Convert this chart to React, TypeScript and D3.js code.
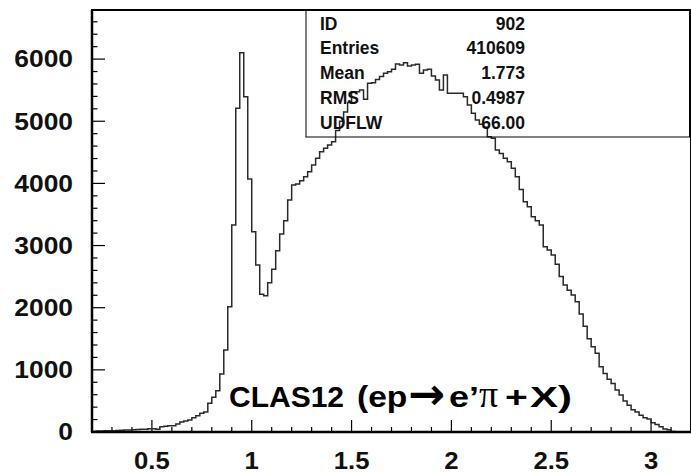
import React from 'react';
import * as d3 from 'd3';

// histogram of 150 bins, 0.02 wide, starting at 0.2
const binStart = 0.2;
const binWidth = 0.02;
const counts = [
  10, 15, 15, 20, 20, 22, 25, 30, 32, 32,
  35, 40, 43, 45, 52, 54, 43, 85, 91, 100,
  102, 129, 160, 177, 193, 230, 260, 300, 320, 461,
  560, 665, 933, 1320, 2016, 3331, 5208, 6103, 5396, 4071,
  3223, 2687, 2215, 2193, 2400, 2618, 2918, 3186, 3400, 3733,
  3974, 3990, 4043, 4108, 4188, 4296, 4404, 4510, 4565, 4618,
  4671, 4850, 5000, 5150, 5300, 5475, 5475, 5503, 5353, 5610,
  5621, 5670, 5720, 5771, 5798, 5836, 5920, 5905, 5942, 5889,
  5905, 5916, 5771, 5825, 5836, 5728, 5664, 5503, 5744, 5450,
  5450, 5450, 5450, 5396, 5261, 5128, 5020, 4950, 4903, 4751,
  4725, 4537, 4480, 4404, 4350, 4243, 4108, 3900, 3706, 3625,
  3464, 3400, 3331, 2982, 2928, 2848, 2700, 2500, 2365, 2280,
  2204, 2097, 1900, 1700, 1500, 1373, 1266, 1050, 940, 850,
  780, 676, 595, 500, 430, 360, 320, 270, 230, 210,
  150, 120, 85, 50, 35, 8, 5, 0, 0, 0,
];

const xTickLabels = [0.5, 1, 1.5, 2, 2.5, 3];
const yTickLabels = [0, 1000, 2000, 3000, 4000, 5000, 6000];

const statNames = ['ID', 'Entries', 'Mean', 'RMS', 'UDFLW'];
const statValues = ['902', '410609', '1.773', '0.4987', '66.00'];

const font = '"Liberation Sans", Arial, Helvetica, sans-serif';

export default function App() {
  const W = 691, H = 474;
  const left = 92, right = 691, top = 10, bottom = 432;

  const x = d3.scaleLinear().domain([0.2, 3.2]).range([left, right]);
  const y = d3.scaleLinear().domain([0, 6790]).range([bottom, top]);

  const pts: [number, number][] = counts.map((c, i) => [binStart + i * binWidth, c]);
  pts.push([binStart + counts.length * binWidth, counts[counts.length - 1]]);
  const line = d3.line<[number, number]>()
    .x(d => x(d[0]))
    .y(d => y(d[1]))
    .curve(d3.curveStepAfter);

  const yTicks = d3.range(200, 6790, 200);
  const xTicks = d3.range(3, 32).map(d => d / 10);

  // stats box
  const boxL = 306, boxR = 689.5, boxT = top, boxB = 137;

  return (
    <svg width={W} height={H} style={{position: 'absolute', left: 0, top: 0, background: '#fff'}}>
      <rect x={0} y={0} width={W} height={H} fill="#fff" />

      {/* ticks */}
      {yTicks.map((t, i) => {
        const major = t % 1000 === 0;
        return <line key={'yt' + i} x1={left} x2={left + (major ? 13 : 5.5)} y1={y(t)} y2={y(t)}
          stroke="#000" strokeWidth={1.2} />;
      })}
      {xTicks.map((t, i) => {
        const major = Math.abs(t * 2 - Math.round(t * 2)) < 1e-6;
        return <line key={'xt' + i} x1={x(t)} x2={x(t)} y1={bottom} y2={bottom - (major ? 12 : 5)}
          stroke="#000" strokeWidth={1.2} />;
      })}

      {/* histogram */}
      <path d={line(pts) || ''} fill="none" stroke="#2a2a2a" strokeWidth={1.5} />

      {/* frame */}
      <line x1={left} x2={left} y1={top} y2={bottom} stroke="#000" strokeWidth={2.5} />
      <line x1={left - 1} x2={right} y1={bottom} y2={bottom} stroke="#000" strokeWidth={2.5} />
      <line x1={left - 1} x2={right} y1={top} y2={top} stroke="#000" strokeWidth={2.2} />
      <line x1={690.5} x2={690.5} y1={top} y2={bottom} stroke="#000" strokeWidth={1} />

      {/* stats box */}
      <rect x={boxL} y={boxT} width={boxR - boxL} height={boxB - boxT} fill="none" stroke="#000" strokeWidth={1} />
      {statNames.map((s, i) => (
        <g key={'st' + i} fontFamily={font} fontWeight="bold" fontSize={17.5} fill="#111">
          <text x={320} y={29.5 + i * 24.75}>{s}</text>
          <text x={525} y={29.5 + i * 24.75} textAnchor="end">{statValues[i]}</text>
        </g>
      ))}

      {/* tick labels */}
      {yTickLabels.map((t, i) => (
        <text key={'yl' + i} transform={`translate(73,${y(t) + 8.4}) scale(1.1,1)`} textAnchor="end"
          fontFamily={font} fontWeight="bold" fontSize={24} fill="#111">{t}</text>
      ))}
      {xTickLabels.map((t, i) => (
        <text key={'xl' + i} transform={`translate(${x(t)},469) scale(1.07,1)`} textAnchor="middle"
          fontFamily={font} fontWeight="bold" fontSize={24} fill="#111">{t}</text>
      ))}

      {/* reaction label */}
      <g fontFamily={font} fontWeight="bold" fontSize={30} fill="#000">
        <text x={229} y={407}>CLAS12</text>
        <text transform="translate(357,407) scale(1.12,1)">(ep</text>
        <text x={408} y={409} fontFamily='"DejaVu Sans", sans-serif' fontSize={44}>→</text>
        <text transform="translate(449,407) scale(1.2,1)">e’</text>
        <text x={479} y={407} fontFamily='"Liberation Serif", "DejaVu Serif", serif' fontWeight="normal" fontSize={38}>π</text>
        <text transform="translate(505,407) scale(1.3,1)">+</text>
        <text transform="translate(530,407) scale(1.4,1)">X)</text>
      </g>
    </svg>
  );
}
